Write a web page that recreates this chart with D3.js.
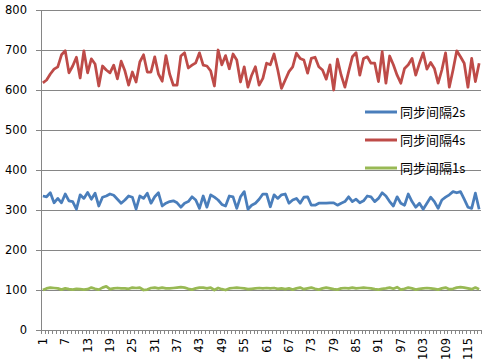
<!DOCTYPE html>
<html>
<head>
<meta charset="utf-8">
<script src="https://cdn.jsdelivr.net/npm/d3@7"></script>
<style>
  body { margin: 0; background: #fff; }
  text { font-family: "DejaVu Sans", Verdana, sans-serif; }
</style>
</head>
<body>
<div id="chart"></div>
<script>
// series values (one per category, 118 categories)
var s2 = [335,333,343,318,329,318,340,323,321,302,338,329,344,327,342,310,332,335,340,337,
          327,317,325,335,332,302,335,329,342,317,333,343,310,317,321,323,318,307,317,321,
          333,325,304,335,307,338,332,325,314,310,335,333,304,333,346,302,
          312,317,327,340,340,308,338,329,338,340,317,325,329,317,332,333,312,312,317,317,
          317,318,318,312,317,321,333,321,327,318,323,335,333,321,329,343,335,321,310,333,
          317,312,340,321,307,317,302,317,332,321,304,325,332,338,346,343,346,327,307,304,
          342,302];
var s4 = [618,625,640,652,658,688,698,643,660,682,630,698,643,678,665,610,660,650,643,662,
          628,672,648,612,645,620,670,688,645,645,683,640,622,686,640,612,612,685,693,655,
          662,668,693,662,660,648,610,700,663,686,653,690,675,620,
          658,607,637,658,612,629,667,663,690,650,604,625,646,658,692,679,675,642,679,682,
          658,650,627,663,600,677,637,607,646,683,693,637,679,683,667,667,621,696,617,685,
          663,637,617,654,663,679,637,667,693,652,669,654,617,650,693,607,650,698,683,667,
          607,679,621,667];
var s1 = [100,104,106,105,104,101,104,102,101,103,102,101,102,106,103,101,106,109,102,104,
          105,104,104,103,106,105,106,100,101,105,106,104,106,104,104,105,106,107,106,103,
          101,104,106,106,104,106,100,105,102,100,104,105,106,105,104,102,
          103,104,105,104,105,104,105,103,104,102,104,101,104,106,102,104,106,103,101,104,
          106,104,102,101,104,105,104,106,104,105,106,105,104,102,101,103,104,106,103,107,
          101,103,106,104,101,103,104,105,104,103,101,104,106,102,103,106,107,106,104,102,
          106,102];
var categories = d3.range(1, s2.length + 1);
var yTicks = [0, 100, 200, 300, 400, 500, 600, 700, 800];
var seriesNames = ["同步间隔2s", "同步间隔4s", "同步间隔1s"];
var seriesColors = ["#4A7EBB", "#BE4B48", "#98B954"];

function init(){
    var w = 484, h = 364;
    var left = 41, right = 481, top = 10, bottom = 330;

    var svg = d3.select("#chart").append("svg")
                .attr("width", w)
                .attr("height", h);

    var xScale = d3.scaleBand()
                   .domain(categories)
                   .range([left, right]);

    var yScale = d3.scaleLinear()
                   .domain([0, 800])
                   .range([bottom, top]);

    // gridlines (with short outside tick)
    svg.append("g").selectAll("line")
        .data(yTicks)
        .enter()
        .append("line")
        .attr("x1", left - 5)
        .attr("x2", right)
        .attr("y1", function(d){ return Math.round(yScale(d)) + 0.5; })
        .attr("y2", function(d){ return Math.round(yScale(d)) + 0.5; })
        .attr("stroke", "#868686")
        .attr("stroke-width", 1);

    // y labels
    svg.append("g").selectAll("text")
        .data(yTicks)
        .enter()
        .append("text")
        .attr("x", 27)
        .attr("y", function(d){ return yScale(d) + 4; })
        .attr("text-anchor", "end")
        .attr("font-size", "11.5px")
        .attr("fill", "#000")
        .text(function(d){ return d; });

    // y axis line
    svg.append("line")
        .attr("x1", left + 0.5).attr("x2", left + 0.5)
        .attr("y1", top).attr("y2", bottom + 4)
        .attr("stroke", "#868686");

    // x axis ticks at category boundaries
    var bounds = categories.map(function(c){ return xScale(c); }).concat([right]);
    svg.append("g").selectAll("line")
        .data(bounds)
        .enter()
        .append("line")
        .attr("x1", function(d){ return Math.round(d) + 0.5; })
        .attr("x2", function(d){ return Math.round(d) + 0.5; })
        .attr("y1", bottom)
        .attr("y2", bottom + 4)
        .attr("stroke", "#868686");

    // x labels, every 6th category, rotated
    var labelled = categories.filter(function(c){ return (c - 1) % 6 === 0; });
    svg.append("g").selectAll("text")
        .data(labelled)
        .enter()
        .append("text")
        .attr("transform", function(d){
            var x = xScale(d) + xScale.bandwidth() / 2 + 4;
            return "translate(" + x + "," + (bottom + 8) + ") rotate(-90)";
        })
        .attr("text-anchor", "end")
        .attr("font-size", "11.5px")
        .attr("fill", "#000")
        .text(function(d){ return d; });

    // lines
    var line = d3.line()
                 .x(function(d, i){ return xScale(categories[i]) + xScale.bandwidth() / 2; })
                 .y(function(d){ return yScale(d); });

    var allSeries = [s2, s4, s1];
    svg.append("g").selectAll("path")
        .data(allSeries)
        .enter()
        .append("path")
        .attr("d", line)
        .attr("fill", "none")
        .attr("stroke", function(d, i){ return seriesColors[i]; })
        .attr("stroke-width", 2.75)
        .attr("stroke-linejoin", "round");

    // legend
    var legend = svg.append("g").selectAll("g")
        .data(seriesNames)
        .enter()
        .append("g")
        .attr("transform", function(d, i){ return "translate(365," + (112 + i * 28) + ")"; });

    legend.append("line")
        .attr("x1", 0).attr("x2", 32)
        .attr("y1", 0).attr("y2", 0)
        .attr("stroke", function(d, i){ return seriesColors[i]; })
        .attr("stroke-width", 3);

    legend.append("text")
        .attr("x", 35)
        .attr("y", 5)
        .attr("font-size", "13px")
        .attr("fill", "#000")
        .style("font-family", "'Noto Sans CJK SC', sans-serif")
        .text(function(d){ return d; });
}

window.onload = init;
</script>
</body>
</html>
